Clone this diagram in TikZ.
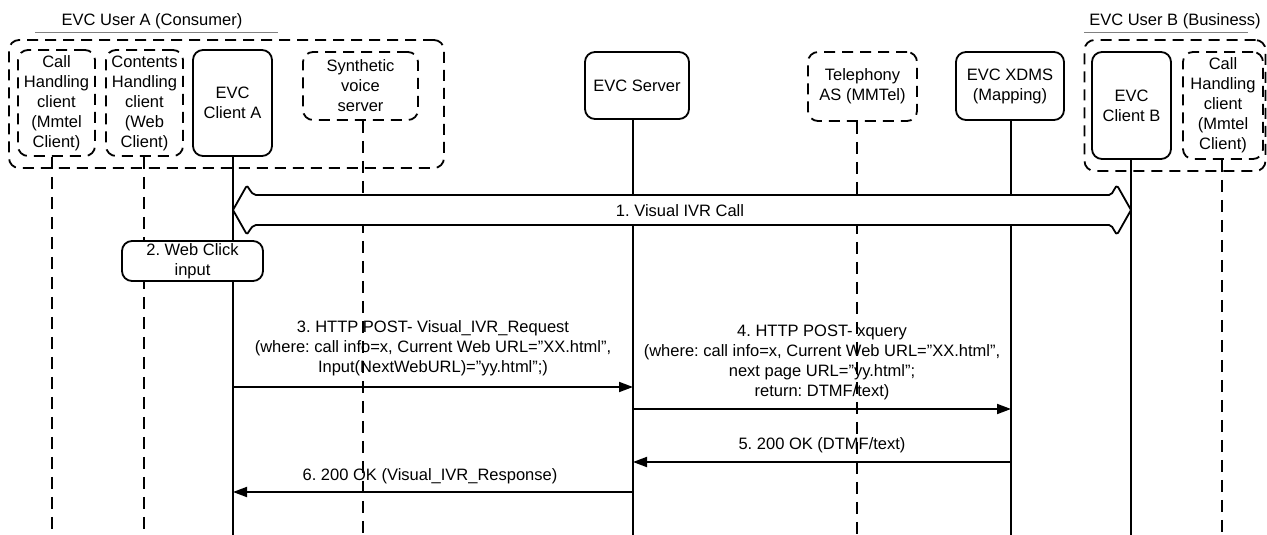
\documentclass[tikz,border=0pt]{standalone}
\usepackage{fontspec}
\setmainfont{Liberation Sans}
\usetikzlibrary{arrows.meta}
\frenchspacing
\begin{document}
\begin{tikzpicture}[x=1pt,y=-1pt,
  every node/.style={font=\fontsize{16.5}{20}\selectfont\frenchspacing, align=center, inner sep=0pt},
  solidbox/.style={draw, line width=1.8pt, rounded corners=10pt, fill=white},
  dashbox/.style={draw, line width=1.8pt, rounded corners=10pt, dash pattern=on 11pt off 7pt},
  life/.style={line width=1.4pt},
  dlife/.style={line width=1.6pt, dash pattern=on 12pt off 8pt},
  msg/.style={line width=1.8pt, -{Triangle[length=14pt,width=10pt]}},
  bigarrow/.style={line width=1.8pt, fill=white, line join=round},
  titleline/.style={draw=gray, line width=0.8pt},
]
\useasboundingbox (0,0) rectangle (1267,535);

% group boxes
\node[dashbox, minimum width=435pt, minimum height=128pt] (groupA) at (226.5,104) {};
\node[dashbox, minimum width=181pt, minimum height=131pt] (groupB) at (1175,105.5) {};

% titles
\node (titleA) at (152,21) {EVC User A (Consumer)};
\draw[titleline] (35,32) -- (278,32);
\node (titleB) at (1175,21) {EVC User B (Business)};
\draw[titleline] (1084,32) -- (1248,32);

% participants
\node[dashbox, minimum width=77pt, minimum height=106pt] (callA) at (56.5,103) {Call\\Handling\\client\\(Mmtel\\Client)};
\node[dashbox, minimum width=77pt, minimum height=106pt] (contA) at (144.5,103) {Contents\\Handling\\client\\(Web\\Client)};
\node[solidbox, minimum width=79pt, minimum height=106pt] (clientA) at (232.5,103) {EVC\\Client A};
\node[dashbox, minimum width=115pt, minimum height=68pt] (synth) at (360.5,86) {Synthetic\\voice\\server};
\node[solidbox, minimum width=104pt, minimum height=67pt] (server) at (637,85.5) {EVC Server};
\node[dashbox, minimum width=109pt, minimum height=69pt] (tel) at (862.5,86.5) {Telephony\\AS (MMTel)};
\node[solidbox, minimum width=108pt, minimum height=68pt] (xdms) at (1010,86) {EVC XDMS\\(Mapping)};
\node[solidbox, minimum width=79pt, minimum height=107pt] (clientB) at (1131.5,105.5) {EVC\\Client B};
\node[dashbox, minimum width=80pt, minimum height=107pt] (callB) at (1223,105.5) {Call\\Handling\\client\\(Mmtel\\Client)};

% lifeline ends
\coordinate (callAend) at (52,535);
\coordinate (contAend) at (144,535);
\coordinate (clientAend) at (233,535);
\coordinate (synthend) at (363,535);
\coordinate (serverend) at (633,535);
\coordinate (telend) at (857,535);
\coordinate (xdmsend) at (1011,535);
\coordinate (clientBend) at (1131,535);
\coordinate (callBend) at (1222,535);

% lifelines
\draw[dlife] (callAend |- callA.south) -- (callAend);
\draw[dlife] (contAend |- contA.south) -- (contAend);
\draw[life] (clientAend |- clientA.south) -- (clientAend);
\draw[dlife] (synthend |- synth.south) -- (synthend);
\draw[life] (serverend |- server.south) -- (serverend);
\draw[dlife] (telend |- tel.south) -- (telend);
\draw[life] (xdmsend |- xdms.south) -- (xdmsend);
\draw[life] (clientBend |- clientB.south) -- (clientBend);
\draw[dlife] (callBend |- callB.south) -- (callBend);

% 1. big double arrow
\coordinate (tipL) at (clientAend |- 0,210);
\coordinate (tipR) at (clientBend |- 0,210);
\draw[bigarrow] (tipL) -- (246,187) .. controls (248,183) and (250,195) .. (256,195)
  -- (1109,195) .. controls (1114,195) and (1115,183) .. (1118,187) -- (tipR)
  -- (1118,233) .. controls (1115,237) and (1114,225) .. (1109,225)
  -- (256,225) .. controls (250,225) and (248,237) .. (246,233) -- cycle;
\node (m1) at (680,211) {1. Visual IVR Call};

% 2. web click
\node[solidbox, minimum width=141pt, minimum height=40pt] (web) at (192.5,261) {2. Web Click\\input};

% 3.
\node (m3) at (433,348.5) {3. HTTP POST- Visual\_IVR\_Request\\(where: call info=x, Current Web URL=”XX.html”,\\Input(NextWebURL)=”yy.html”;)};
\draw[msg] (clientAend |- 0,387) -- (serverend |- 0,387);

% 4.
\node (m4) at (822,362.5) {4. HTTP POST- xquery\\(where: call info=x, Current Web URL=”XX.html”,\\next page URL=”yy.html”;\\return: DTMF/text)};
\draw[msg] (serverend |- 0,409) -- (xdmsend |- 0,409);

% 5.
\node (m5) at (822,445) {5. 200 OK (DTMF/text)};
\draw[msg] (xdmsend |- 0,462) -- (serverend |- 0,462);

% 6.
\node (m6) at (430,476) {6. 200 OK (Visual\_IVR\_Response)};
\draw[msg] (serverend |- 0,492) -- (clientAend |- 0,492);
\end{tikzpicture}
\end{document}
